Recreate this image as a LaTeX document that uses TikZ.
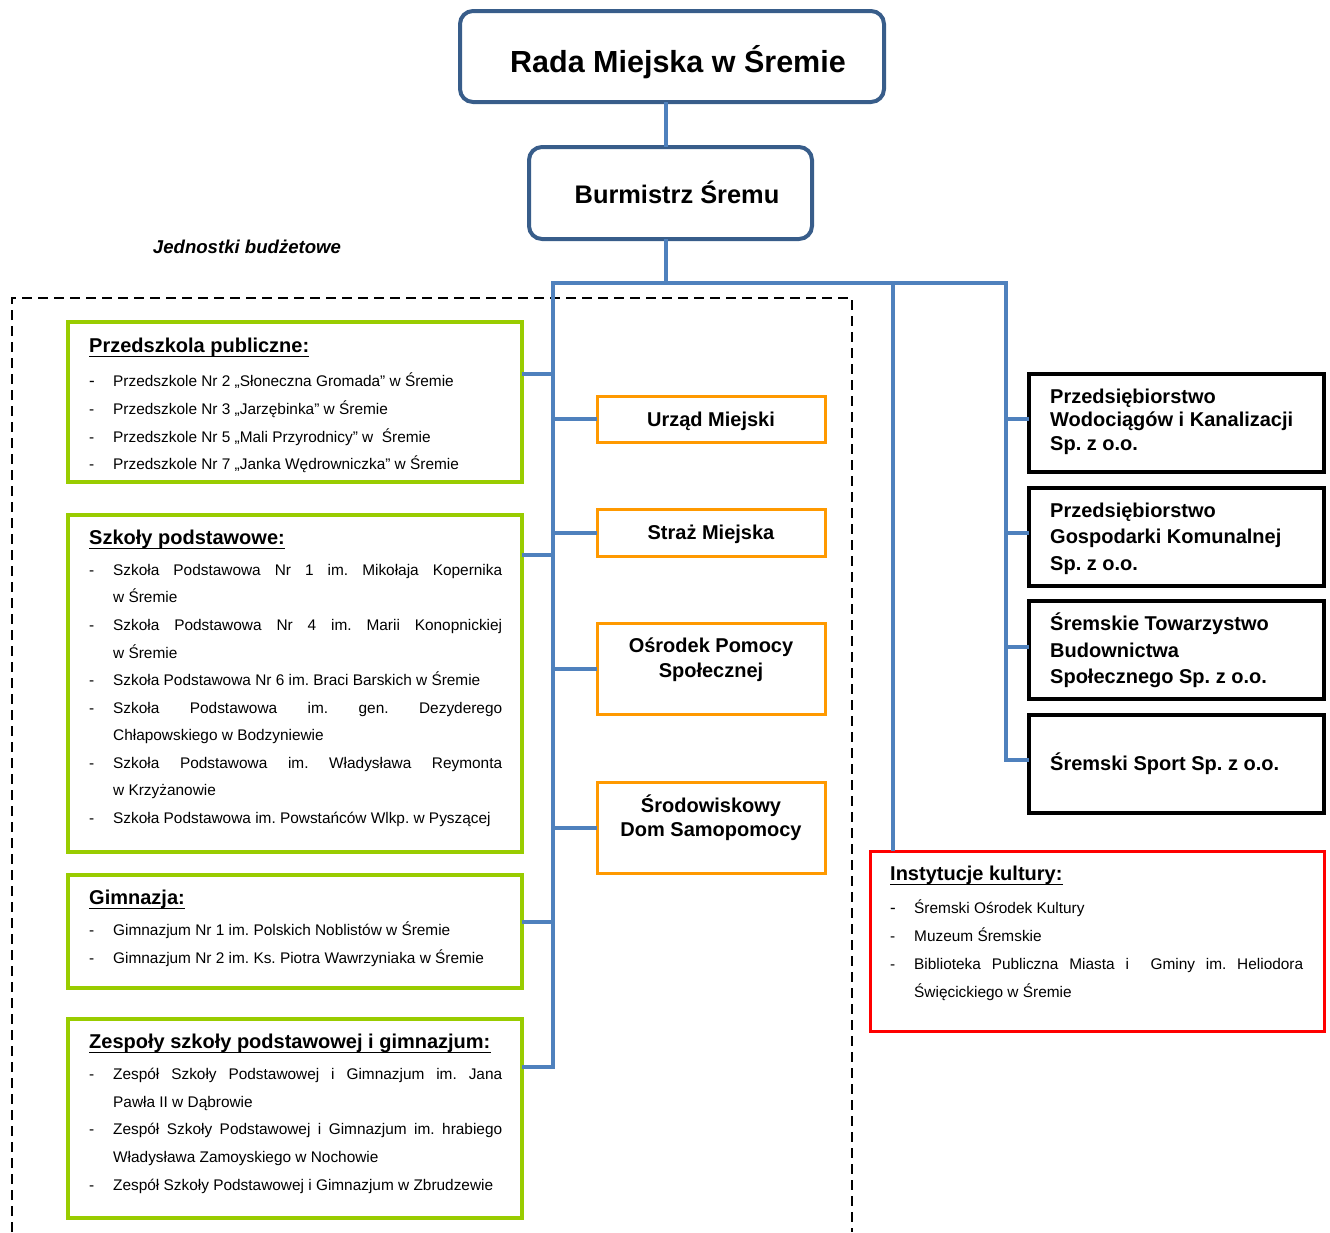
\documentclass[tikz,border=0pt]{standalone}
\usepackage{fontspec}
\setmainfont{Liberation Sans}
\definecolor{connblue}{HTML}{4F81BD}
\definecolor{boxblue}{HTML}{385D8A}
\definecolor{lgreen}{HTML}{99CC00}
\definecolor{orng}{HTML}{FF9900}
\newcommand\jl[1]{\makebox[389pt][s]{#1}}
\frenchspacing
\begin{document}
\frenchspacing
\begin{tikzpicture}[x=1pt,y=-1pt,
  conn/.style={draw=connblue, line width=4pt},
  boxbase/.style={anchor=north west, inner sep=0pt, outer sep=0pt},
  rbox/.style={boxbase, draw=boxblue, line width=4pt, rounded corners=13pt},
  gbox/.style={boxbase, draw=lgreen, line width=3.5pt},
  obox/.style={boxbase, draw=orng, line width=3pt},
  kbox/.style={boxbase, draw=black, line width=4pt},
  rdbox/.style={boxbase, draw=red, line width=3pt},
  head/.style={anchor=base west, inner sep=0pt, font=\bfseries\fontsize{20}{22}\selectfont},
  itm/.style={anchor=base west, inner sep=0pt, font=\fontsize{15.4}{18}\selectfont},
  bt/.style={anchor=base west, inner sep=0pt, font=\bfseries\fontsize{20}{22}\selectfont},
  ot/.style={anchor=base, inner sep=0pt, font=\bfseries\fontsize{20}{22}\selectfont},
  ulin/.style={line width=1.9pt},
  dbox/.style={draw=black, line width=2.5pt, dash pattern=on 10pt off 6pt}
]
\useasboundingbox (0,0) rectangle (1330,1232);

% dashed frame of budget units
\draw[dbox] (12,1232) -- (12,298) -- (852,298) -- (852,1232);

% boxes
\node[rbox, minimum width=424pt, minimum height=91pt] (rada) at (460,11) {};
\node[rbox, minimum width=283pt, minimum height=92pt] (burm) at (529,147) {};
\node[gbox, minimum width=454pt, minimum height=160pt] (przed) at (68,322) {};
\node[gbox, minimum width=454pt, minimum height=337pt] (szk) at (68,515) {};
\node[gbox, minimum width=454pt, minimum height=113pt] (gim) at (68,875) {};
\node[gbox, minimum width=454pt, minimum height=199pt] (zesp) at (68,1019) {};
\node[obox, minimum width=228pt, minimum height=46pt] (urz) at (597,396) {};
\node[obox, minimum width=228pt, minimum height=47pt] (straz) at (597,509) {};
\node[obox, minimum width=228pt, minimum height=91pt] (ops) at (597,623) {};
\node[obox, minimum width=228pt, minimum height=91pt] (sds) at (597,782) {};
\node[kbox, minimum width=295pt, minimum height=98pt] (k1) at (1029,374) {};
\node[kbox, minimum width=295pt, minimum height=98pt] (k2) at (1029,488) {};
\node[kbox, minimum width=295pt, minimum height=98pt] (k3) at (1029,601) {};
\node[kbox, minimum width=295pt, minimum height=98pt] (k4) at (1029,715) {};
\node[rdbox, minimum width=454pt, minimum height=180pt] (inst) at (870,851) {};

% connectors
\coordinate (top) at (666,283);
\coordinate (bl) at (553,283);
\coordinate (bm) at (893,283);
\coordinate (br) at (1006,283);
\coordinate (j1) at (553,374);
\coordinate (j2) at (553,555);
\coordinate (j3) at (553,922);
\coordinate (j4) at (553,1067);
\draw[conn] (rada.south -| top) -- (burm.north -| top);
\draw[conn] (burm.south -| top) -- (top);
\draw[conn] ([xshift=-2pt]bl) -- ([xshift=2pt]br);
\draw[conn] (bl) -- (j4) -- (zesp.east |- j4);
\draw[conn] (j1) -- (przed.east |- j1);
\draw[conn] (j2) -- (szk.east |- j2);
\draw[conn] (j3) -- (gim.east |- j3);
\draw[conn] (urz.west -| bl) -- (urz.west);
\draw[conn] (straz.west -| bl) -- (straz.west);
\draw[conn] (ops.west -| bl) -- (ops.west);
\draw[conn] (sds.west -| bl) -- (sds.west);
\draw[conn] (bm) -- (bm |- inst.north);
\draw[conn] (br) -- ([yshift=4pt]br |- k4.west) -- ([yshift=4pt]k4.west);
\draw[conn] ([yshift=4pt]br |- k1.west) -- ([yshift=4pt]k1.west);
\draw[conn] ([yshift=4pt]br |- k2.west) -- ([yshift=4pt]k2.west);
\draw[conn] ([yshift=3pt]br |- k3.west) -- ([yshift=3pt]k3.west);

% titles
\node[anchor=base, inner sep=0pt, font=\bfseries\fontsize{30.5}{34}\selectfont] (tRada) at (678,72) {Rada Miejska w Śremie};
\node[anchor=base, inner sep=0pt, font=\bfseries\fontsize{25.4}{28}\selectfont] (tBurm) at (677,203) {Burmistrz Śremu};
\node[anchor=base, inner sep=0pt, font=\bfseries\itshape\fontsize{18.6}{20}\selectfont] (tJed) at (247,253) {Jednostki budżetowe};

% Przedszkola
\node[head] (hP) at (89,352) {Przedszkola publiczne:};
\draw[ulin] ([yshift=-4.5pt]hP.base west) -- ([yshift=-4.5pt]hP.base east);
\node[itm, font=\fontsize{17}{18}\selectfont] (dP1) at (89,386) {-};
\node[itm] (dP2) at (89,414) {-};
\node[itm] (dP3) at (89,442) {-};
\node[itm] (dP4) at (89,469) {-};
\node[itm] (tP1) at (113,386) {Przedszkole Nr 2 „Słoneczna Gromada” w Śremie};
\node[itm] (tP2) at (113,414) {Przedszkole Nr 3 „Jarzębinka” w Śremie};
\node[itm] (tP3) at (113,442) {Przedszkole Nr 5 „Mali Przyrodnicy” w~~Śremie};
\node[itm] (tP4) at (113,469) {Przedszkole Nr 7 „Janka Wędrowniczka” w Śremie};

% Szkoly
\node[head] (hS) at (89,544) {Szkoły podstawowe:};
\draw[ulin] ([yshift=-4.5pt]hS.base west) -- ([yshift=-4.5pt]hS.base east);
\node[itm] (dS1) at (89,575) {-};
\node[itm] (dS2) at (89,630) {-};
\node[itm] (dS3) at (89,685) {-};
\node[itm] (dS4) at (89,713) {-};
\node[itm] (dS5) at (89,768) {-};
\node[itm] (dS6) at (89,823) {-};
\node[itm] (tS1a) at (113,575) {\jl{Szkoła Podstawowa Nr 1 im. Mikołaja Kopernika}};
\node[itm] (tS1b) at (113,602) {w Śremie};
\node[itm] (tS2a) at (113,630) {\jl{Szkoła Podstawowa Nr 4 im. Marii Konopnickiej}};
\node[itm] (tS2b) at (113,658) {w Śremie};
\node[itm] (tS3) at (113,685) {Szkoła Podstawowa Nr 6 im. Braci Barskich w Śremie};
\node[itm] (tS4a) at (113,713) {\jl{Szkoła Podstawowa im. gen. Dezyderego}};
\node[itm] (tS4b) at (113,740) {Chłapowskiego w Bodzyniewie};
\node[itm] (tS5a) at (113,768) {\jl{Szkoła Podstawowa im. Władysława Reymonta}};
\node[itm] (tS5b) at (113,795) {w Krzyżanowie};
\node[itm] (tS6) at (113,823) {Szkoła Podstawowa im. Powstańców Wlkp. w Pyszącej};

% Gimnazja
\node[head] (hG) at (89,904) {Gimnazja:};
\draw[ulin] ([yshift=-4.5pt]hG.base west) -- ([yshift=-4.5pt]hG.base east);
\node[itm] (dG1) at (89,935) {-};
\node[itm] (dG2) at (89,963) {-};
\node[itm] (tG1) at (113,935) {Gimnazjum Nr 1 im. Polskich Noblistów w Śremie};
\node[itm] (tG2) at (113,963) {Gimnazjum Nr 2 im. Ks. Piotra Wawrzyniaka w Śremie};

% Zespoly
\node[head] (hZ) at (89,1048) {Zespoły szkoły podstawowej i gimnazjum:};
\draw[ulin] ([yshift=-4.5pt]hZ.base west) -- ([yshift=-4.5pt]hZ.base east);
\node[itm] (dZ1) at (89,1079) {-};
\node[itm] (dZ2) at (89,1134) {-};
\node[itm] (dZ3) at (89,1190) {-};
\node[itm] (tZ1a) at (113,1079) {\jl{Zespół Szkoły Podstawowej i Gimnazjum im. Jana}};
\node[itm] (tZ1b) at (113,1107) {Pawła II w Dąbrowie};
\node[itm] (tZ2a) at (113,1134) {\jl{Zespół Szkoły Podstawowej i Gimnazjum im. hrabiego}};
\node[itm] (tZ2b) at (113,1162) {Władysława Zamoyskiego w Nochowie};
\node[itm] (tZ3) at (113,1190) {Zespół Szkoły Podstawowej i Gimnazjum w Zbrudzewie};

% orange boxes
\node[ot] (tU) at (711,426) {Urząd Miejski};
\node[ot] (tSt) at (711,539) {Straż Miejska};
\node[ot] (tO1) at (711,652) {Ośrodek Pomocy};
\node[ot] (tO2) at (711,677) {Społecznej};
\node[ot] (tD1) at (711,812) {Środowiskowy};
\node[ot] (tD2) at (711,836) {Dom Samopomocy};

% companies
\node[bt] (k1a) at (1050,403) {Przedsiębiorstwo};
\node[bt] (k1b) at (1050,426) {Wodociągów i Kanalizacji};
\node[bt] (k1c) at (1050,450) {Sp. z o.o.};
\node[bt] (k2a) at (1050,517) {Przedsiębiorstwo};
\node[bt] (k2b) at (1050,543) {Gospodarki Komunalnej};
\node[bt] (k2c) at (1050,570) {Sp. z o.o.};
\node[bt] (k3a) at (1050,630) {Śremskie Towarzystwo};
\node[bt] (k3b) at (1050,657) {Budownictwa};
\node[bt] (k3c) at (1050,683) {Społecznego Sp. z o.o.};
\node[bt] (k4a) at (1050,770) {Śremski Sport Sp. z o.o.};

% culture
\node[head] (hI) at (890,880) {Instytucje kultury:};
\draw[ulin] ([yshift=-4.5pt]hI.base west) -- ([yshift=-4.5pt]hI.base east);
\node[itm, font=\fontsize{17}{18}\selectfont] (dI1) at (890,913) {-};
\node[itm] (dI2) at (890,941) {-};
\node[itm] (dI3) at (890,969) {-};
\node[itm] (tI1) at (914,913) {Śremski Ośrodek Kultury};
\node[itm] (tI2) at (914,941) {Muzeum Śremskie};
\node[itm] (tI3a) at (914,969) {\jl{Biblioteka Publiczna Miasta i~ Gminy im. Heliodora}};
\node[itm] (tI3b) at (914,997) {Święcickiego w Śremie};
\end{tikzpicture}
\end{document}
